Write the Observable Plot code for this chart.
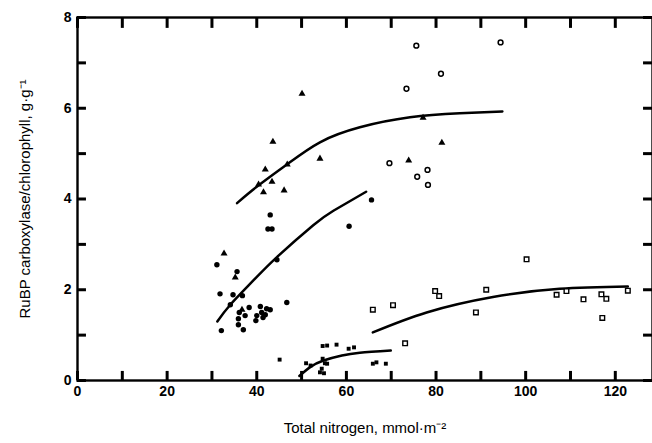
<!DOCTYPE html>
<html><head><meta charset="utf-8">
<script src="https://cdn.jsdelivr.net/npm/d3@7"></script>
<script src="https://cdn.jsdelivr.net/npm/@observablehq/plot@0.6"></script>
<style>body{margin:0;background:#fff} svg{display:block}</style>
</head><body><div id="chart"></div>
<script>
// Triangles (filled)
const triN = [50.1,43.6,41.9,43.4,41.5,46.1,46.8,54.1,73.9,81.3,77.1,32.7,35.2,36.7,40.4];
const triR = [6.32,5.26,4.65,4.38,4.15,4.19,4.76,4.89,4.85,5.24,5.79,2.80,2.27,1.56,4.32];
// Filled circles
const fcN = [43.0,42.5,43.4,44.5,31.1,35.6,31.8,34.7,36.8,34.1,46.7,32.1,37.0,35.9,35.9,36.1,37.4,38.3,39.8,40.0,40.8,41.1,41.9,42.2,43.0,41.4,60.6,65.6];
const fcR = [3.65,3.34,3.34,2.66,2.55,2.40,1.91,1.89,1.87,1.67,1.72,1.10,1.12,1.23,1.36,1.50,1.43,1.61,1.32,1.43,1.63,1.50,1.45,1.58,1.56,1.39,3.40,3.98];
// Open circles
const ocN = [75.6,94.4,81.1,73.4,69.6,78.1,75.8,78.2];
const ocR = [7.38,7.45,6.76,6.43,4.79,4.64,4.49,4.31];
// Open squares
const osN = [65.9,70.4,73.1,79.8,80.7,88.9,91.2,100.2,106.9,109.1,112.9,116.9,118.0,117.1,122.8];
const osR = [1.56,1.66,0.82,1.97,1.86,1.50,2.00,2.67,1.89,1.97,1.79,1.90,1.80,1.38,1.98];
// Filled squares
const fsN = [45.1,51.0,54.7,55.7,57.8,60.5,61.7,54.7,55.2,55.7,54.1,55.0,54.5,52.0,65.9,66.7,68.8];
const fsR = [0.46,0.38,0.76,0.77,0.79,0.70,0.73,0.48,0.38,0.37,0.18,0.16,0.26,0.33,0.37,0.40,0.37];
// Fitted curves
const triCurveN = [35.6,40,46.7,54.1,63,74.2,85.3,94.8];
const triCurveR = [3.91,4.27,4.76,5.25,5.58,5.80,5.89,5.93];
const fcCurveN = [31.2,34.1,39.3,44.5,52.6,57.1,64.4];
const fcCurveR = [1.30,1.67,2.21,2.72,3.42,3.74,4.16];
const osCurveN = [65.9,77.9,92.7,107.6,122.8];
const osCurveR = [1.06,1.50,1.84,2.02,2.07];
const fsCurveN = [49.5,52,54.9,59,63,69.9];
const fsCurveR = [0.10,0.30,0.44,0.55,0.61,0.66];
// Ticks and labels
const xTicksMinor = [0,10,20,30,40,50,60,70,80,90,100,110,120];
const xTicksLabel = [0,20,40,60,80,100,120];
const yTicksMinor = [0,1,2,3,4,5,6,7,8];
const yTicksLabel = [0,2,4,6,8];
const xTitle = "Total nitrogen, mmol·m⁻²";
const yTitle = "RuBP carboxylase/chlorophyll, g·g⁻¹";

const pts = (n, r) => n.map((x, i) => ({n: x, r: r[i]}));

const chart = Plot.plot({
  width: 652, height: 443,
  marginLeft: 77, marginRight: 0, marginTop: 17, marginBottom: 63,
  style: {fontFamily: "'Liberation Sans', Arial, sans-serif", background: "white", color: "black"},
  x: {domain: [0, 128.3]},
  y: {domain: [0, 8]},
  marks: [
    // inward ticks on all four sides (lengths in data units)
    Plot.ruleX(xTicksMinor, {x: d => d, y1: 0, y2: 0.2, stroke: "black", strokeWidth: 3}),
    Plot.ruleX(xTicksMinor, {x: d => d, y1: 7.76, y2: 8, stroke: "black", strokeWidth: 3}),
    Plot.ruleY(yTicksMinor, {y: d => d, x1: 0, x2: 2, stroke: "black", strokeWidth: 3}),
    Plot.ruleY(yTicksMinor, {y: d => d, x1: 126.3, x2: 128.3, stroke: "black", strokeWidth: 3}),
    Plot.frame({stroke: "black", strokeWidth: 2.4}),
    // tick labels
    Plot.axisX({ticks: xTicksLabel, tickSize: 0, tickPadding: 6, fontSize: 14, fontWeight: "bold", label: null}),
    Plot.axisY({ticks: yTicksLabel, tickSize: 0, tickPadding: 6, fontSize: 14, fontWeight: "bold", label: null}),
    Plot.line(pts(triCurveN, triCurveR), {x: "n", y: "r", curve: "natural", stroke: "black", strokeWidth: 2.5}),
    Plot.line(pts(fcCurveN, fcCurveR), {x: "n", y: "r", curve: "natural", stroke: "black", strokeWidth: 2.5}),
    Plot.line(pts(osCurveN, osCurveR), {x: "n", y: "r", curve: "natural", stroke: "black", strokeWidth: 2.5}),
    Plot.line(pts(fsCurveN, fsCurveR), {x: "n", y: "r", curve: "natural", stroke: "black", strokeWidth: 2.5}),
    Plot.dot(pts(triN, triR), {x: "n", y: "r", symbol: "triangle", fill: "black", r: 2.6}),
    Plot.dot(pts(fcN, fcR), {x: "n", y: "r", symbol: "circle", fill: "black", r: 2.7}),
    Plot.dot(pts(ocN, ocR), {x: "n", y: "r", symbol: "circle", fill: "white", stroke: "black", strokeWidth: 1.5, r: 2.4}),
    Plot.dot(pts(osN, osR), {x: "n", y: "r", symbol: "square", fill: "white", stroke: "black", strokeWidth: 1.4, r: 2.6}),
    Plot.dot(pts(fsN, fsR), {x: "n", y: "r", symbol: "square", fill: "black", r: 2.2}),
    Plot.text([xTitle], {frameAnchor: "bottom", dy: 52, fontSize: 15, textAnchor: "middle", text: d => d}),
    Plot.text([yTitle], {frameAnchor: "left", dx: -52, rotate: -90, fontSize: 15, textAnchor: "middle", text: d => d})
  ]
});
document.getElementById("chart").append(chart);
</script>
</body></html>
